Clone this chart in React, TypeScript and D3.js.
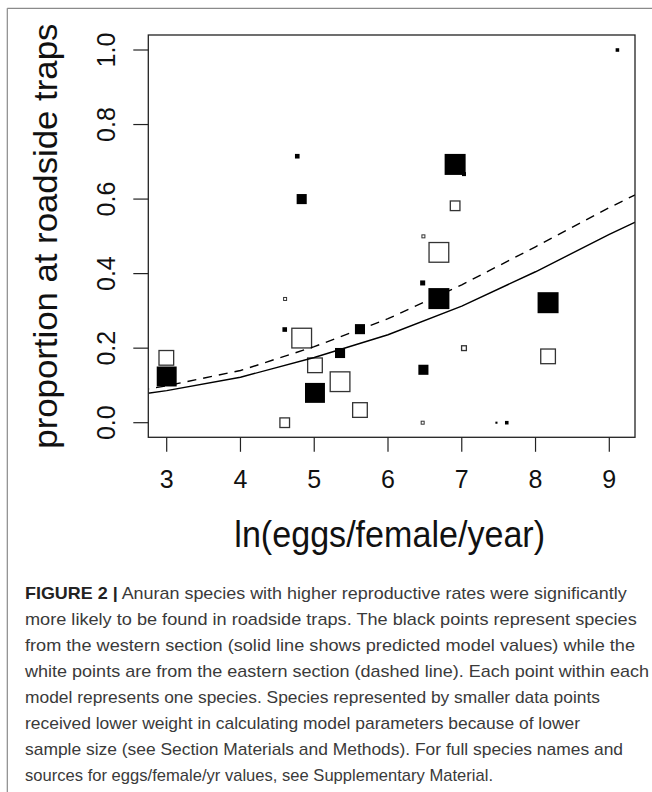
import React from "react";
import * as d3 from "d3";

// ---- data ----
const xTicks = [3, 4, 5, 6, 7, 8, 9];
const yTicks = [0.0, 0.2, 0.4, 0.6, 0.8, 1.0];

// western section (black points)
const westX = [3.0, 4.6, 4.77, 4.83, 5.01, 5.35, 5.62, 6.47, 6.48, 6.69, 6.91, 7.03, 7.47, 7.61, 8.17, 9.11];
const westY = [0.124, 0.25, 0.715, 0.6, 0.08, 0.187, 0.251, 0.375, 0.142, 0.333, 0.693, 0.667, 0.0, 0.0, 0.322, 1.0];
const westW = [0.95, 0.22, 0.22, 0.48, 0.95, 0.48, 0.48, 0.24, 0.48, 1, 1, 0.19, 0.1, 0.17, 1, 0.17];

// eastern section (white points)
const eastX = [2.995, 4.6, 4.605, 4.83, 5.01, 5.35, 5.62, 6.47, 6.48, 6.69, 6.91, 7.03, 8.17];
const eastY = [0.174, 0.0, 0.332, 0.227, 0.154, 0.11, 0.034, 0.0, 0.5, 0.457, 0.582, 0.2, 0.178];
const eastW = [0.76, 0.52, 0.19, 1, 0.76, 1, 0.76, 0.19, 0.19, 1, 0.52, 0.29, 0.76];

// predicted model values
const predX = [2, 3, 4, 5, 6, 7, 8, 9, 10];
const westPred = [0.058, 0.086, 0.122, 0.175, 0.236, 0.313, 0.405, 0.505, 0.6];
const eastPred = [0.066, 0.099, 0.14, 0.204, 0.279, 0.37, 0.472, 0.577, 0.675];

const xTitle = "ln(eggs/female/year)";
const yTitle = "proportion at roadside traps";

const captionBold = "FIGURE 2 |";
const captionLines = [
  " Anuran species with higher reproductive rates were significantly",
  "more likely to be found in roadside traps. The black points represent species",
  "from the western section (solid line shows predicted model values) while the",
  "white points are from the eastern section (dashed line). Each point within each",
  "model represents one species. Species represented by smaller data points",
  "received lower weight in calculating model parameters because of lower",
  "sample size (see Section Materials and Methods). For full species names and",
  "sources for eggs/female/yr values, see Supplementary Material.",
];
const captionEnds = [626.7, 636.7, 635, 649, 600, 580, 623, 493];

export default function App() {
  const W = 652;
  const H = 792;
  const box = { l: 148.3, t: 35, r: 635, b: 437.3 };
  const x = d3.scaleLinear().domain([3, 9]).range([166.7, 609.3]);
  const y = d3.scaleLinear().domain([0, 1]).range([422.7, 50]);
  const size = d3.scaleLinear().domain([0, 1]).range([0, 21]);
  const font = "'Liberation Sans', Arial, Helvetica, sans-serif";

  const line = d3
    .line<number>()
    .x((_, i) => x(predX[i]))
    .y((d) => y(d));

  const westPts = westX.map((v, i) => ({ x: v, y: westY[i], w: westW[i] }));
  const eastPts = eastX.map((v, i) => ({ x: v, y: eastY[i], w: eastW[i] }));
  const sw = 1.3;

  return (
    <svg
      width={W}
      height={H}
      style={{ position: "absolute", left: 0, top: 0, background: "#fff" }}
      fontFamily={font}
    >
      <rect x={0} y={0} width={W} height={H} fill="#fff" />
      {/* outer frame */}
      <line x1={7.3} y1={8.3} x2={W} y2={8.3} stroke="#8a8a8a" strokeWidth={1.2} />
      <line x1={7.3} y1={8.3} x2={7.3} y2={H} stroke="#8a8a8a" strokeWidth={1.2} />

      <defs>
        <clipPath id="plotclip">
          <rect x={box.l} y={box.t} width={box.r - box.l} height={box.b - box.t} />
        </clipPath>
      </defs>

      {/* points: eastern (open) */}
      {eastPts.map((p, i) => {
        const s = size(p.w);
        const small = s < 5;
        const w = small ? 1 : sw;
        const inner = Math.max(s - w, 1.5);
        return (
          <rect
            key={"e" + i}
            x={x(p.x) - inner / 2}
            y={y(p.y) - inner / 2}
            width={inner}
            height={inner}
            fill="#fff"
            stroke="#333"
            strokeWidth={w}
          />
        );
      })}
      {/* points: western (filled) */}
      {westPts.map((p, i) => {
        const s = size(p.w);
        return (
          <rect
            key={"w" + i}
            x={x(p.x) - s / 2}
            y={y(p.y) - s / 2}
            width={s}
            height={s}
            fill="#000"
          />
        );
      })}

      {/* model lines */}
      <g clipPath="url(#plotclip)">
        <path d={line(westPred) || ""} fill="none" stroke="#000" strokeWidth={1.4} />
        <path
          d={line(eastPred) || ""}
          fill="none"
          stroke="#000"
          strokeWidth={1.4}
          strokeDasharray="9 7"
        />
      </g>

      {/* plot box */}
      <rect
        x={box.l}
        y={box.t}
        width={box.r - box.l}
        height={box.b - box.t}
        fill="none"
        stroke="#222"
        strokeWidth={1.3}
      />

      {/* x axis */}
      {xTicks.map((t) => (
        <g key={"xt" + t}>
          <line x1={x(t)} x2={x(t)} y1={box.b} y2={box.b + 14.5} stroke="#222" strokeWidth={1.2} />
          <text x={x(t)} y={488.3} textAnchor="middle" fontSize={25} fill="#111">
            {String(t)}
          </text>
        </g>
      ))}
      {/* y axis */}
      {yTicks.map((t) => (
        <g key={"yt" + t}>
          <line x1={box.l - 15} x2={box.l} y1={y(t)} y2={y(t)} stroke="#222" strokeWidth={1.2} />
          <text
            transform={`translate(115,${y(t)}) rotate(-90)`}
            textAnchor="middle"
            fontSize={25}
            fill="#111"
          >
            {t.toFixed(1)}
          </text>
        </g>
      ))}

      {/* axis titles */}
      <text
        x={389.7}
        y={546.7}
        textAnchor="middle"
        fontSize={37}
        fill="#111"
        textLength={310.7}
        lengthAdjust="spacingAndGlyphs"
      >
        {xTitle}
      </text>
      <text
        transform={`translate(56.7,${(box.t + box.b) / 2}) rotate(-90)`}
        textAnchor="middle"
        fontSize={34}
        fill="#111"
        textLength={425}
        lengthAdjust="spacingAndGlyphs"
      >
        {yTitle}
      </text>

      {/* caption */}
      {captionLines.map((ln, i) => (
        <text
          key={"c" + i}
          x={25}
          y={599.3 + i * 26}
          fontSize={17}
          fill="#3a3a3a"
          textLength={captionEnds[i] - 25}
          lengthAdjust="spacingAndGlyphs"
        >
          {i === 0 ? (
            <>
              <tspan fontWeight="bold" fill="#222">
                {captionBold}
              </tspan>
              <tspan>{ln}</tspan>
            </>
          ) : (
            ln
          )}
        </text>
      ))}
    </svg>
  );
}
